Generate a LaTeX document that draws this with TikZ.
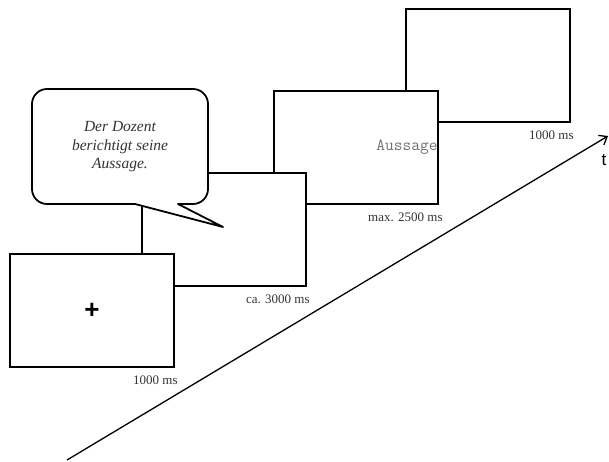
\documentclass[tikz,border=0pt]{standalone}
\usepackage{fontspec}
\setmainfont{Liberation Serif}
\setsansfont{Liberation Sans}
\usepackage{tikz}
\usetikzlibrary{arrows.meta,positioning}
\tikzset{
    screen/.style={rectangle, draw, line width=1.8pt, fill=white, minimum width=164pt, minimum height=113pt, anchor=north west, inner sep=0pt},
    bubble/.style={draw, line width=1.8pt, fill=white, line join=round},
    timing/.style={font=\fontsize{13}{15}\selectfont, inner sep=0pt, text=black!80},
    quote/.style={font=\fontsize{15.5}{18.5}\selectfont\itshape, align=center, text=black!80},
    probe/.style={font=\fontsize{17}{19}\ttfamily, text=black!55, inner sep=1pt},
    fixation/.style={font=\fontsize{26}{26}\sffamily\bfseries, inner sep=0pt},
    timeline/.style={line width=1.3pt, -{Straight Barb[length=7pt,width=11pt]}}
}
\begin{document}
\begin{tikzpicture}[x=1pt,y=1pt]
    \useasboundingbox (0,0) rectangle (609,461);
    % screens, back to front
    \node[screen] (screen4) at (405,453) {};
    \node[screen] (screen3) at (273,371) {};
    \node[probe, anchor=east] (probe) at (screen3.east) {Aussage};
    \node[screen] (screen2) at (141,289) {};
    % speech bubble
    \draw[bubble] (178,257) -- (193,257) arc[start angle=-90,end angle=0,radius=15]
        -- (208,357) arc[start angle=0,end angle=90,radius=15]
        -- (47,372) arc[start angle=90,end angle=180,radius=15]
        -- (32,272) arc[start angle=180,end angle=270,radius=15]
        -- (135,257) -- (223,234) -- cycle;
    \node[quote] (sentence) at (120,314) {Der Dozent\\berichtigt seine\\Aussage.};
    \node[screen] (screen1) at (9,208) {};
    \node[fixation] (cross) at (screen1.center) {+};
    % durations
    \node[timing, below left=8pt and -3pt of screen1.south east] (dur1) {1000 ms};
    \node[timing, below left=8pt and -3pt of screen2.south east] (dur2) {ca. 3000 ms};
    \node[timing, below left=8pt and -4pt of screen3.south east] (dur3) {max. 2500 ms};
    \node[timing, below left=8pt and -3pt of screen4.south east] (dur4) {1000 ms};
    % time axis
    \coordinate (tstart) at (67,1);
    \coordinate (tend) at (608,325);
    \draw[timeline] (tstart) -- (tend);
    \node[font=\fontsize{17}{17}\sffamily, inner sep=0pt] (tlabel) at (604,301) {t};
\end{tikzpicture}
\end{document}
